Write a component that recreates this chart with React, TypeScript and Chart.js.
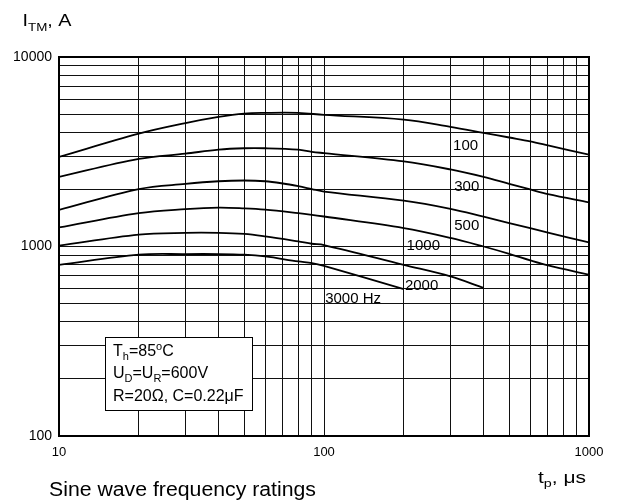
import React, { useEffect, useRef } from "react";
import { Chart, registerables } from "chart.js";

Chart.register(...registerables);

const FONT = "'Liberation Sans', Arial, Helvetica, sans-serif";

// ---- axes ----
const xGridValues = [10, 20, 30, 40, 50, 60, 70, 80, 90, 100, 200, 300, 400, 500, 600, 700, 800, 900, 1000];
const yGridValues = [100, 200, 300, 400, 500, 600, 700, 800, 900, 1000, 2000, 3000, 4000, 5000, 6000, 7000, 8000, 9000, 10000];
const xTickLabels = ["10", "100", "1000"];
const yTickLabels = ["100", "1000", "10000"];

// ---- series: pulse width tp (µs) vs ITM (A) ----
const tp100 = [10, 20, 30, 40, 50, 60, 80, 100, 200, 300, 400, 500, 600, 700, 1000];
const itm100 = [2970, 3940, 4480, 4830, 5030, 5070, 5070, 4950, 4670, 4280, 3980, 3760, 3590, 3420, 3050];

const tp300 = [10, 20, 30, 40, 50, 60, 80, 90, 100, 200, 300, 400, 500, 600, 700, 1000];
const itm300 = [2330, 2900, 3090, 3245, 3300, 3300, 3245, 3160, 3110, 2810, 2550, 2330, 2140, 2000, 1890, 1710];

const tp500 = [10, 20, 30, 40, 50, 60, 70, 80, 90, 100, 200, 300, 400, 500, 600, 700, 1000];
const itm500 = [1560, 2010, 2140, 2210, 2230, 2210, 2150, 2080, 2010, 1950, 1745, 1580, 1436, 1330, 1250, 1185, 1050];

const tp1000 = [10, 20, 30, 40, 50, 60, 80, 90, 100, 200, 300, 400, 500, 600, 700, 1000];
const itm1000 = [1260, 1500, 1575, 1605, 1590, 1565, 1500, 1470, 1440, 1250, 1110, 1000, 915, 845, 795, 710];

const tp2000 = [10, 20, 30, 40, 50, 60, 80, 90, 100, 200, 300, 400];
const itm2000 = [1010, 1155, 1180, 1180, 1165, 1130, 1063, 1034, 1018, 800, 695, 605];

const tp3000 = [10, 20, 30, 40, 50, 60, 80, 90, 100, 200];
const itm3000 = [800, 905, 912, 912, 905, 886, 834, 818, 791, 596];

// ---- curve labels (data coordinates of the label's left/baseline) ----
const curveLabels = ["100", "300", "500", "1000", "2000", "3000 Hz"];
const curveLabelX = [307, 310, 310, 205, 202, 101];
const curveLabelY = [3244, 1954, 1215, 961, 586, 504];

// ---- condition box (data coordinates) ----
const boxX = [14.9, 53.6];
const boxY = [332, 137];

type Seg = { t: string; size: number; dy?: number };

function drawRich(ctx: CanvasRenderingContext2D, segs: Seg[], x: number, y: number, targetWidth?: number) {
  ctx.save();
  let total = 0;
  const widths = segs.map((s) => {
    ctx.font = `${s.size}px ${FONT}`;
    const w = ctx.measureText(s.t).width;
    total += w;
    return w;
  });
  const sx = targetWidth ? targetWidth / total : 1;
  ctx.translate(x, y);
  ctx.scale(sx, 1);
  ctx.fillStyle = "#000";
  ctx.textAlign = "left";
  ctx.textBaseline = "alphabetic";
  let cx = 0;
  segs.forEach((s, i) => {
    ctx.font = `${s.size}px ${FONT}`;
    ctx.fillText(s.t, cx, s.dy || 0);
    cx += widths[i];
  });
  ctx.restore();
}

const decorPlugin = {
  id: "decor",
  afterDraw(chart: any) {
    const ctx: CanvasRenderingContext2D = chart.ctx;
    const { left, right, top, bottom } = chart.chartArea;
    const xs = chart.scales.x;
    const ys = chart.scales.y;

    // frame
    ctx.save();
    ctx.strokeStyle = "#000";
    ctx.lineWidth = 2;
    ctx.strokeRect(left, top, right - left, bottom - top);
    ctx.restore();

    // curve labels
    ctx.save();
    ctx.fillStyle = "#000";
    ctx.font = `15px ${FONT}`;
    ctx.textAlign = "left";
    ctx.textBaseline = "alphabetic";
    curveLabels.forEach((lab, i) => {
      ctx.fillText(lab, xs.getPixelForValue(curveLabelX[i]), ys.getPixelForValue(curveLabelY[i]));
    });
    ctx.restore();

    // condition box
    const bx0 = Math.round(xs.getPixelForValue(boxX[0])) + 0.5;
    const bx1 = Math.round(xs.getPixelForValue(boxX[1])) + 0.5;
    const by0 = Math.round(ys.getPixelForValue(boxY[0])) + 0.5;
    const by1 = Math.round(ys.getPixelForValue(boxY[1])) + 0.5;
    ctx.save();
    ctx.fillStyle = "#fff";
    ctx.fillRect(bx0, by0, bx1 - bx0, by1 - by0);
    ctx.strokeStyle = "#000";
    ctx.lineWidth = 1;
    ctx.strokeRect(bx0, by0, bx1 - bx0, by1 - by0);
    ctx.restore();
    const tx = bx0 + 7.5;
    drawRich(ctx, [
      { t: "T", size: 16 },
      { t: "h", size: 11, dy: 4 },
      { t: "=85", size: 16 },
      { t: "o", size: 11, dy: -6 },
      { t: "C", size: 16 },
    ], tx, by0 + 18);
    drawRich(ctx, [
      { t: "U", size: 16 },
      { t: "D", size: 11, dy: 4 },
      { t: "=U", size: 16 },
      { t: "R", size: 11, dy: 4 },
      { t: "=600V", size: 16 },
    ], tx, by0 + 40);
    drawRich(ctx, [{ t: "R=20\u03A9, C=0.22\u03BCF", size: 16 }], tx, by0 + 63);

    // axis titles
    drawRich(ctx, [
      { t: "I", size: 17 },
      { t: "TM", size: 11.5, dy: 4.5 },
      { t: ", A", size: 17 },
    ], 22.5, 26, 49);
    drawRich(ctx, [
      { t: "t", size: 16 },
      { t: "p", size: 11, dy: 3.5 },
      { t: ", \u03BCs", size: 16 },
    ], 538, 483, 48);
    drawRich(ctx, [{ t: "Sine wave frequency ratings", size: 19.5 }], 49, 496, 267);
  },
};

const toPoints = (xs: number[], ys: number[]) => xs.map((x, i) => ({ x, y: ys[i] }));

export default function App() {
  const ref = useRef<HTMLCanvasElement>(null);
  useEffect(() => {
    document.body.style.margin = "0";
    const series = [
      [tp100, itm100],
      [tp300, itm300],
      [tp500, itm500],
      [tp1000, itm1000],
      [tp2000, itm2000],
      [tp3000, itm3000],
    ];
    const chart = new Chart(ref.current as HTMLCanvasElement, {
      type: "line",
      data: {
        datasets: series.map((s, i) => ({
          label: curveLabels[i],
          data: toPoints(s[0] as number[], s[1] as number[]),
          borderColor: "#000",
          borderWidth: 1.8,
          pointRadius: 0,
          fill: false,
          tension: 0.35,
        })),
      },
      options: {
        responsive: false,
        animation: false,
        devicePixelRatio: 1,
        layout: { padding: { left: 0, top: 57, right: 30, bottom: 0 } },
        plugins: { legend: { display: false }, tooltip: { enabled: false } },
        scales: {
          x: {
            type: "logarithmic",
            min: 10,
            max: 1000,
            afterBuildTicks: (s: any) => {
              s.ticks = xGridValues.map((v) => ({ value: v }));
            },
            afterFit: (s: any) => {
              s.height = 68;
            },
            ticks: {
              autoSkip: false,
              maxRotation: 0,
              minRotation: 0,
              padding: 9,
              color: "#000",
              font: { family: FONT, size: 13 },
              callback: (v: any) => (xTickLabels.includes(String(v)) ? String(v) : ""),
            },
            grid: { color: "#111", lineWidth: 1, drawTicks: false },
            border: { display: false },
          },
          y: {
            type: "logarithmic",
            min: 100,
            max: 10000,
            afterBuildTicks: (s: any) => {
              s.ticks = yGridValues.map((v) => ({ value: v }));
            },
            afterFit: (s: any) => {
              s.width = 59;
            },
            ticks: {
              autoSkip: false,
              padding: 7,
              color: "#000",
              font: { family: FONT, size: 14 },
              callback: (v: any) => (yTickLabels.includes(String(v)) ? String(v) : ""),
            },
            grid: { color: "#111", lineWidth: 1, drawTicks: false },
            border: { display: false },
          },
        },
      } as any,
      plugins: [decorPlugin],
    });
    return () => chart.destroy();
  }, []);
  return <canvas ref={ref} width={619} height={504} style={{ display: "block" }} />;
}
